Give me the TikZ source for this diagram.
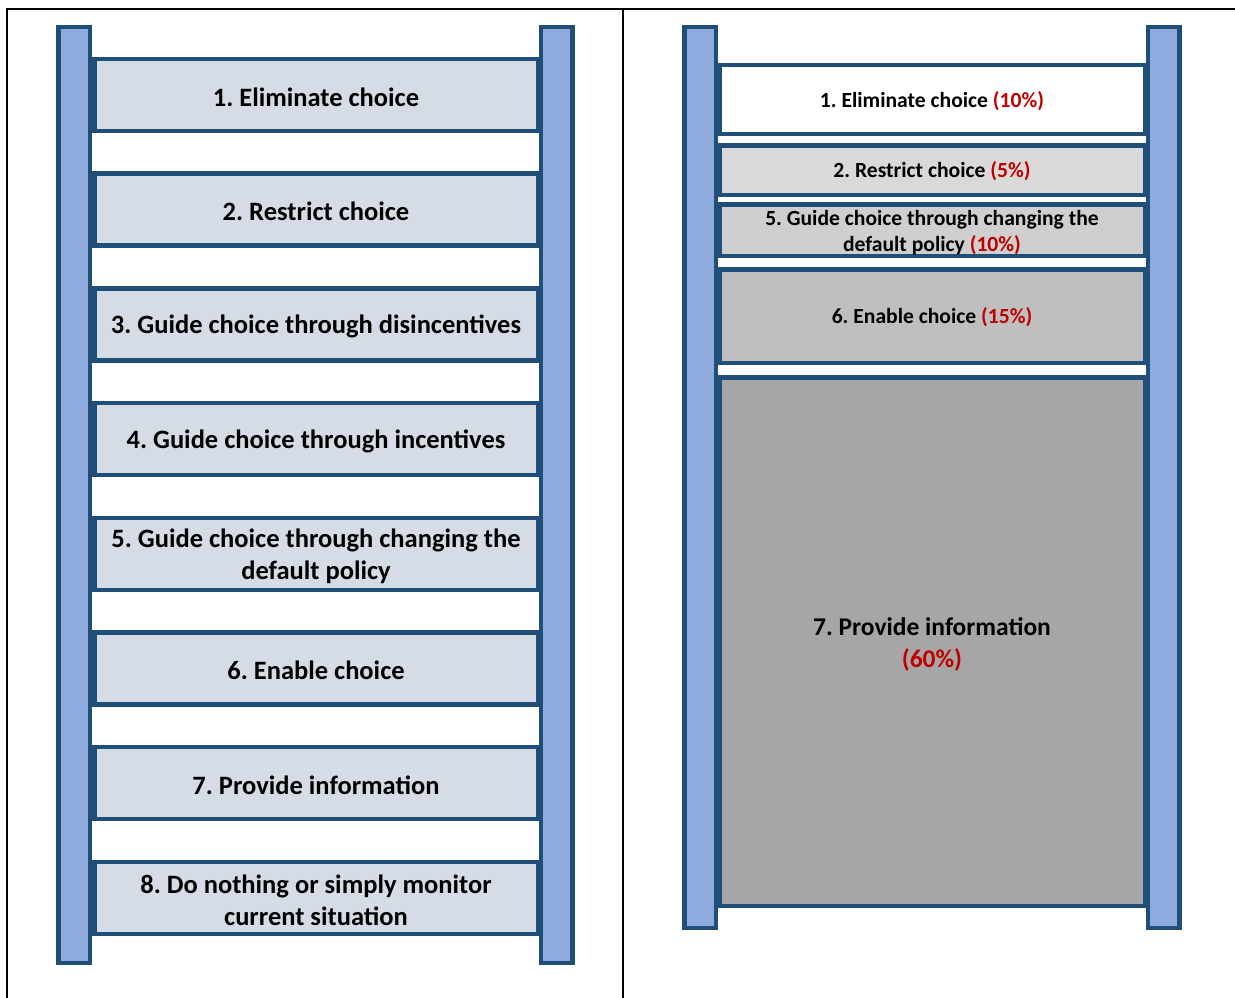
\documentclass[tikz,border=0pt]{standalone}
\usepackage{fontspec}
\setmainfont{Carlito}
\frenchspacing
\definecolor{dkblue}{HTML}{1F4E79}
\definecolor{railblue}{HTML}{8FAADC}
\definecolor{rungfill}{HTML}{D6DCE5}
\definecolor{pct}{HTML}{C00000}
\definecolor{gA}{HTML}{D9D9D9}
\definecolor{gB}{HTML}{D0CECE}
\definecolor{gC}{HTML}{BFBFBF}
\definecolor{gD}{HTML}{A6A6A6}
\begin{document}
\begin{tikzpicture}[x=1pt,y=-1pt,
  rail/.style={draw=dkblue,fill=railblue,line width=4.5pt,inner sep=0pt,minimum width=31.5pt},
  rung/.style={draw=dkblue,fill=rungfill,line width=4.5pt,inner sep=0pt,minimum width=443.5pt,minimum height=72pt},
  rbox/.style={draw=dkblue,line width=4.5pt,inner sep=0pt,minimum width=425.5pt},
  ltxt/.style={inner sep=0pt,align=center,font=\fontsize{26.5}{32}\selectfont\bfseries},
  rtxt/.style={inner sep=0pt,align=center,font=\fontsize{21.6}{26}\selectfont\bfseries},
  frame/.style={line width=2.5pt,black}]
\useasboundingbox (0,0) rectangle (1235,998);
% frame
\coordinate (ftl) at (7,9);
\coordinate (ftr) at (1235,9);
\coordinate (fbl) at (7,998);
\coordinate (fmt) at (623,9);
\coordinate (fmb) at (623,998);
\draw[frame] (ftr) -- (ftl) -- (fbl);
\draw[frame] (fmt) -- (fmb);
% left ladder
\node[rail,minimum height=935.5pt] (L1) at (74,495) {};
\node[rail,minimum height=935.5pt] (L2) at (556.5,495) {};
\node[rung] (a1) at (316,95) {};
\node[rung] (a2) at (316,209.7) {};
\node[rung] (a3) at (316,324.4) {};
\node[rung] (a4) at (316,439.1) {};
\node[rung] (a5) at (316,553.8) {};
\node[rung] (a6) at (316,668.5) {};
\node[rung] (a7) at (316,783.2) {};
\node[rung] (a8) at (316,897.9) {};
\node[ltxt] (ta1) at ([yshift=-2pt]a1.center) {1. Eliminate choice};
\node[ltxt] (ta2) at ([yshift=-2pt]a2.center) {2. Restrict choice};
\node[ltxt] (ta3) at ([yshift=-2pt]a3.center) {3. Guide choice through disincentives};
\node[ltxt] (ta4) at ([yshift=-2pt]a4.center) {4. Guide choice through incentives};
\node[ltxt] (ta5) at ([yshift=-2pt]a5.center) {5. Guide choice through changing the\\default policy};
\node[ltxt] (ta6) at ([yshift=-2pt]a6.center) {6. Enable choice};
\node[ltxt] (ta7) at ([yshift=-2pt]a7.center) {7. Provide information};
\node[ltxt] (ta8) at ([yshift=-2pt]a8.center) {8. Do nothing or simply monitor\\current situation};
% right ladder
\node[rail,minimum height=900.5pt] (R1) at (700,477.5) {};
\node[rail,minimum height=900.5pt] (R2) at (1163.5,477.5) {};
\node[rbox,fill=white,minimum height=68.5pt] (b1) at (932,99.5) {};
\node[rbox,fill=gA,minimum height=49.5pt] (b2) at (932,170) {};
\node[rbox,fill=gB,minimum height=51.5pt] (b5) at (932,230) {};
\node[rbox,fill=gC,minimum height=93.5pt] (b6) at (932,316) {};
\node[rbox,fill=gD,minimum height=528.5pt] (b7) at (932,641.5) {};
\node[rtxt] (tb1) at ([yshift=-1.5pt]b1.center) {1. Eliminate choice \textcolor{pct}{(10\%)}};
\node[rtxt] (tb2) at ([yshift=-1.5pt]b2.center) {2. Restrict choice \textcolor{pct}{(5\%)}};
\node[rtxt] (tb5) at ([yshift=-3pt]b5.center) {5. Guide choice through changing the\\default policy \textcolor{pct}{(10\%)}};
\node[rtxt] (tb6) at ([yshift=-1.5pt]b6.center) {6. Enable choice \textcolor{pct}{(15\%)}};
\node[rtxt,font=\fontsize{25.5}{32}\selectfont\bfseries] (tb7) at ([yshift=-3pt]b7.center) {7. Provide information\\\textcolor{pct}{(60\%)}};
\end{tikzpicture}
\end{document}
